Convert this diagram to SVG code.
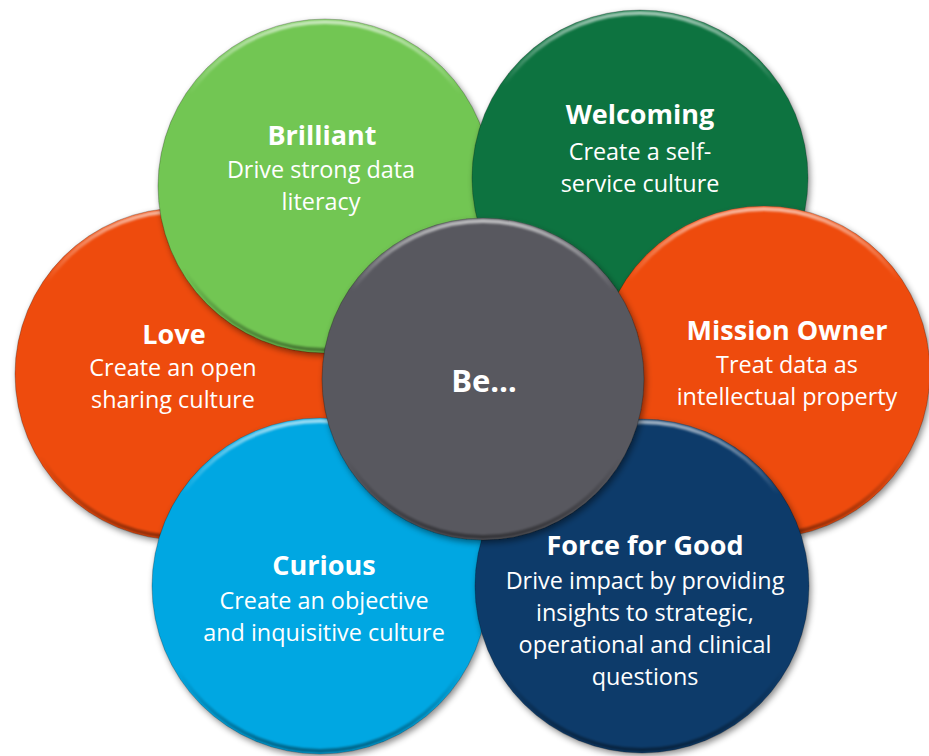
<svg xmlns="http://www.w3.org/2000/svg" width="929" height="756" viewBox="0 0 929 756">
<defs>
<filter id="shadow" x="-20%" y="-20%" width="140%" height="140%">
<feDropShadow dx="2" dy="3" stdDeviation="3" flood-color="#000" flood-opacity="0.45"/>
</filter>
<filter id="soft" x="-10%" y="-10%" width="120%" height="120%">
<feGaussianBlur stdDeviation="1.2"/>
</filter>
<linearGradient id="bevel" x1="0" y1="0" x2="0" y2="1">
<stop offset="0" stop-color="#fff" stop-opacity="0.6"/>
<stop offset="0.22" stop-color="#fff" stop-opacity="0"/>
<stop offset="0.75" stop-color="#000" stop-opacity="0"/>
<stop offset="1" stop-color="#000" stop-opacity="0.4"/>
</linearGradient>
</defs>
<style>
.disc{filter:url(#shadow);stroke:#000;stroke-opacity:0.25;stroke-width:1}
.bev{fill:none;stroke:url(#bevel);stroke-width:4;filter:url(#soft)}
text{font-family:"Open Sans","Noto Sans","Liberation Sans",sans-serif;fill:#fff;text-anchor:middle}
.t{font-weight:bold;font-size:27px}
.b{font-size:23.4px}
.c{font-weight:bold;font-size:31px}
</style>
<rect width="929" height="756" fill="#fff"/>
<g id="love">
<circle class="disc" cx="181" cy="374" r="166" fill="#EE4B0C"/>
<circle class="bev" cx="181" cy="374" r="163"/>
<text class="t" x="174" y="344">Love</text>
<text class="b" x="173" y="376">Create an open</text>
<text class="b" x="173" y="408">sharing culture</text>
</g>
<g id="brilliant">
<circle class="disc" cx="325" cy="186" r="167" fill="#72C653"/>
<circle class="bev" cx="325" cy="186" r="164"/>
<text class="t" x="322" y="145">Brilliant</text>
<text class="b" x="321" y="178">Drive strong data</text>
<text class="b" x="321" y="210">literacy</text>
</g>
<g id="welcoming">
<circle class="disc" cx="640" cy="178" r="168" fill="#0A7340"/>
<circle class="bev" cx="640" cy="178" r="165"/>
<text class="t" x="640" y="124">Welcoming</text>
<text class="b" x="640" y="160">Create a self-</text>
<text class="b" x="640" y="192">service culture</text>
</g>
<g id="mission-owner">
<circle class="disc" cx="764" cy="372" r="166" fill="#EE4B0C"/>
<circle class="bev" cx="764" cy="372" r="163"/>
<text class="t" x="787" y="340">Mission Owner</text>
<text class="b" x="787" y="373">Treat data as</text>
<text class="b" x="787" y="405">intellectual property</text>
</g>
<g id="curious">
<circle class="disc" cx="320" cy="586" r="168" fill="#06A7E2"/>
<circle class="bev" cx="320" cy="586" r="165"/>
<text class="t" x="324" y="575">Curious</text>
<text class="b" x="324" y="609">Create an objective</text>
<text class="b" x="324" y="641">and inquisitive culture</text>
</g>
<g id="force-for-good">
<circle class="disc" cx="642" cy="586" r="167" fill="#0A3B6B"/>
<circle class="bev" cx="642" cy="586" r="164"/>
<text class="t" x="645" y="555">Force for Good</text>
<text class="b" x="645" y="589">Drive impact by providing</text>
<text class="b" x="645" y="621">insights to strategic,</text>
<text class="b" x="645" y="653">operational and clinical</text>
<text class="b" x="645" y="685">questions</text>
</g>
<g id="be">
<circle class="disc" cx="483" cy="379" r="161" fill="#58595E"/>
<circle class="bev" cx="483" cy="379" r="158"/>
<text class="c" x="484" y="392">Be…</text>
</g>
</svg>
